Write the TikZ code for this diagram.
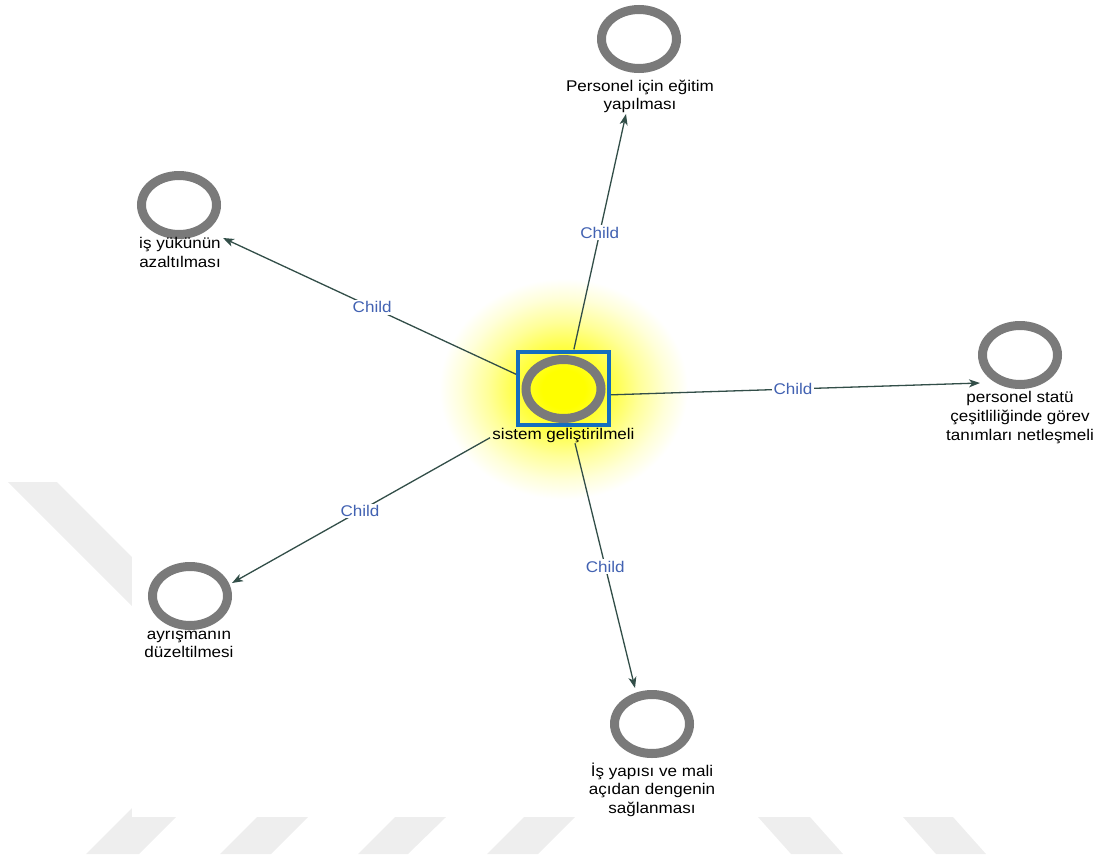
\documentclass[tikz,border=0pt]{standalone}
\usepackage{fontspec}
\setmainfont{Liberation Sans}[FakeStretch=1.1]
\usetikzlibrary{shapes.geometric,arrows.meta,fit}

% soft yellow halo behind the selected concept (white is reached before the rim)
\pgfdeclareradialshading{glow}{\pgfpoint{0bp}{0bp}}{%
  color(0bp)=(yellow); color(4bp)=(yellow); color(9bp)=(yellow!72!white);
  color(14bp)=(yellow!40!white); color(19bp)=(yellow!15!white);
  color(23bp)=(white); color(50bp)=(white)}

\definecolor{ringgray}{RGB}{122,122,122}
\definecolor{edgecol}{RGB}{50,78,72}
\definecolor{linkblue}{RGB}{66,98,178}
\definecolor{selblue}{RGB}{20,110,190}
\definecolor{wmgray}{RGB}{238,238,238}

\begin{document}
\begin{tikzpicture}[x=1pt,y=-1pt,
  ring/.style={ellipse, draw=ringgray, line width=9pt,
    minimum width=75pt, minimum height=59pt, inner sep=0pt},
  lbl/.style={font=\fontsize{15.5pt}{18.7pt}\selectfont, align=center,
    inner sep=0pt, anchor=north, execute at begin node={\rule{0pt}{11.5pt}}},
  link/.style={draw=edgecol, line width=1.3pt,
    -{Stealth[length=11pt,width=8pt,inset=3pt]}},
  childlab/.style={font=\fontsize{15.5pt}{18pt}\selectfont, text=linkblue,
    fill=white, inner sep=1.5pt}]

\useasboundingbox (0,0) rectangle (1102,854);

% background bands
\fill[wmgray] (8,482) -- (57,482) -- (200,625) -- (151,625) -- cycle;
\fill[wmgray] (86,854) -- (139,854) -- (203,790) -- (150,790) -- cycle;
\fill[wmgray] (220,854) -- (271,854) -- (308,817) -- (257,817) -- cycle;
\fill[wmgray] (358,854) -- (408,854) -- (446,817) -- (395,817) -- cycle;
\fill[wmgray] (487,854) -- (538,854) -- (575,817) -- (524,817) -- cycle;
\fill[wmgray] (758,817) -- (810,817) -- (843,854) -- (791,854) -- cycle;
\fill[wmgray] (903,817) -- (953,817) -- (986,854) -- (936,854) -- cycle;
\fill[white] (132,0) rectangle (1102,817);

% halo
\shade[shading=glow] (563.5,389) ellipse [x radius=135, y radius=120];

% central concept
\node[ring] (sys-ring) at (563.5,389) {};
\node[draw=selblue, line width=4pt, minimum width=91pt, minimum height=73pt,
  inner sep=0pt] (sys) at (563.5,388.5) {};
\node[lbl] (sys-lab) at (563.5,427.5) {sistem geliştirilmeli};
\node[fit=(sys)(sys-lab), inner sep=0pt] (core) {};

% child concepts
\node[ring] (t-ring) at (639,39) {};
\node[lbl] (t-lab) at (640,79.5) {Personel için eğitim\\yapılması};
\coordinate (t-tip) at (626,114);

\node[ring] (lt-ring) at (179,205) {};
\node[lbl] (lt-lab) at (180,237.5) {iş yükünün\\azaltılması};
\coordinate (lt-tip) at (223,238);

\node[ring] (r-ring) at (1020,355) {};
\node[lbl] (r-lab) at (1020,391.5) {personel statü\\çeşitliliğinde görev\\tanımları netleşmeli};
\coordinate (r-tip) at (980,383);

\node[ring] (bl-ring) at (190,596) {};
\node[lbl] (bl-lab) at (189,630.5) {ayrışmanın\\düzeltilmesi};
\coordinate (bl-tip) at (232,583);

\node[ring] (b-ring) at (652,724) {};
\node[lbl] (b-lab) at (652,762.5) {İş yapısı ve mali\\açıdan dengenin\\sağlanması};
\coordinate (b-tip) at (635,688);

% links
\draw[link, shorten <=48.1pt] (core.center) -- node[childlab, pos=0.58] {Child} (t-tip);
\draw[link, shorten <=52.4pt] (core.center) -- node[childlab, pos=0.562] {Child} (lt-tip);
\draw[link, shorten <=47.5pt] (core.center) -- node[childlab, pos=0.551] {Child} (r-tip);
\draw[link, shorten <=84.3pt] (core.center) -- node[childlab, pos=0.614] {Child} (bl-tip);
\draw[link, shorten <=48.4pt] (core.center) -- node[childlab, pos=0.584] {Child} (b-tip);
\end{tikzpicture}
\end{document}
